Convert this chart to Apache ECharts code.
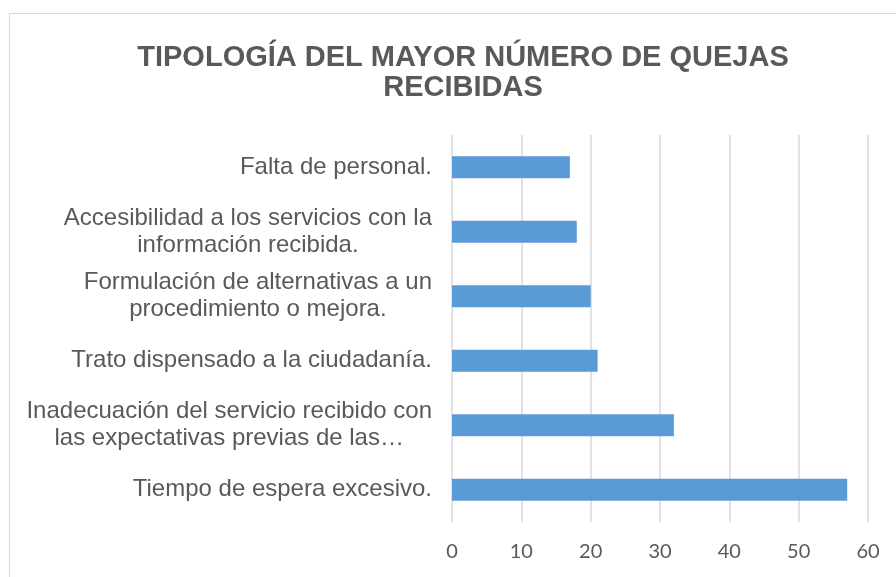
<!DOCTYPE html>
<html>
<head>
<meta charset="utf-8">
<script src="https://cdn.jsdelivr.net/npm/echarts@6/dist/echarts.min.js"></script>
<style>
  html, body { margin: 0; padding: 0; background: #fff; }
  #chart { width: 896px; height: 577px; }
</style>
</head>
<body>
<div id="chart"></div>
<script>
// categorías de abajo hacia arriba (como en el eje de Excel)
const categories = [
  'Tiempo de espera excesivo.',
  'Inadecuación del servicio recibido con\nlas expectativas previas de las…',
  'Trato dispensado a la ciudadanía.',
  'Formulación de alternativas a un\nprocedimiento o mejora.',
  'Accesibilidad a los servicios con la\ninformación recibida.',
  'Falta de personal.'
];
const quejas = [57, 32, 21, 20, 18, 17];
const xTicks = [0, 60, 10];

const chart = echarts.init(document.getElementById('chart'));

chart.setOption({
  backgroundColor: '#fff',
  animation: false,
  title: {
    text: 'TIPOLOGÍA DEL MAYOR NÚMERO DE QUEJAS\nRECIBIDAS',
    left: 458, top: 38, textAlign: 'center',
    textStyle: {
      fontFamily: 'Liberation Sans', fontWeight: 'bold', fontSize: 29,
      color: '#595959', lineHeight: 30
    }
  },
  graphic: [{
    type: 'rect', silent: true,
    shape: { x: 9.5, y: 13.5, width: 920, height: 600 },
    style: { fill: 'none', stroke: '#d9d9d9', lineWidth: 1 }
  }],
  grid: { left: 452, right: 28, top: 135, bottom: 55 },
  xAxis: {
    type: 'value', min: xTicks[0], max: xTicks[1], interval: xTicks[2],
    axisLine: { show: false }, axisTick: { show: false },
    axisLabel: { fontFamily: 'Lato', fontSize: 20, color: '#595959', margin: 20 },
    splitLine: { lineStyle: { color: '#d9d9d9', width: 1.5 } }
  },
  yAxis: {
    type: 'category', data: categories,
    axisLine: { show: false }, axisTick: { show: false },
    axisLabel: {
      margin: 20,
      formatter: (val) => val.split('\n').map(l => '{c|' + l + '}').join('\n'),
      rich: {
        c: { fontFamily: 'Liberation Sans', fontSize: 24, color: '#595959', lineHeight: 27, align: 'center' }
      }
    }
  },
  series: [{
    type: 'bar', data: quejas, barCategoryGap: '66%',
    itemStyle: { color: '#5b9bd5' }
  }]
});
</script>
</body>
</html>
